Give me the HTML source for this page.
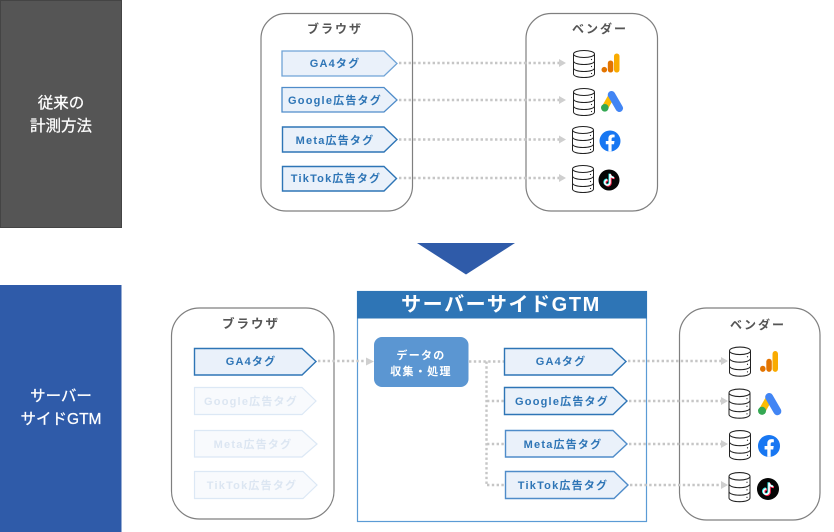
<!DOCTYPE html>
<html lang="ja">
<head>
<meta charset="utf-8">
<style>
html,body{margin:0;padding:0;background:#fff;width:834px;height:532px;overflow:hidden}
svg{display:block}
text{font-family:"Liberation Sans","Noto Sans CJK JP",sans-serif}
.tag{font-size:11px;font-weight:700;fill:#2E75B6;letter-spacing:1.2px;text-anchor:middle}
.hd{font-size:12px;font-weight:700;fill:#555;letter-spacing:2px;text-anchor:middle}
.side{font-size:15.5px;fill:#fff;stroke:#fff;stroke-width:.25;text-anchor:middle}
.dot{fill:none;stroke:#c6c6c6;stroke-width:2.4;stroke-dasharray:2.4 2.4}
.box{fill:#fff;stroke:#7f7f7f;stroke-width:1.2}
.s{fill:#EAF1FA;stroke:#2E75B6;stroke-width:1.4}
.f{fill:#F8FAFD;stroke:#DCE8F5;stroke-width:1.2}
.ft{font-size:11px;font-weight:700;fill:#DCE6F2;letter-spacing:1.2px;text-anchor:middle}
.ah{fill:#cfcfcf}
</style>
</head>
<body>
<svg width="834" height="532" viewBox="0 0 834 532" xmlns="http://www.w3.org/2000/svg">
<defs>
<g id="db" fill="#fff" stroke="#222" stroke-width="1">
<path d="M0.5 4v20c0 2 4.500 3.500 10.500 3.500s10.500-1.500 10.500-3.500V4"/>
<ellipse cx="11" cy="4" rx="10.500" ry="3.500"/>
<path d="M0.500 11c0 2 4.500 3.500 10.500 3.500s10.500-1.500 10.500-3.500M0.500 18c0 2 4.500 3.500 10.500 3.500s10.500-1.500 10.500-3.500" fill="none"/>
<circle cx="18.500" cy="9.500" r=".6" fill="#222" stroke="none"/>
<circle cx="18.500" cy="16.500" r=".6" fill="#222" stroke="none"/>
<circle cx="18.500" cy="23.500" r=".6" fill="#222" stroke="none"/>
</g>
<g id="ga">
<rect x="12.500" y="0" width="5.500" height="19" rx="2.700" fill="#F9AB00"/>
<rect x="6.300" y="7" width="5.500" height="12" rx="2.700" fill="#E37400"/>
<circle cx="2.800" cy="16.200" r="2.800" fill="#E37400"/>
</g>
<g id="ads">
<path d="M4 16.500 L10.500 5" stroke="#FBBC04" stroke-width="6.500" stroke-linecap="round"/>
<path d="M10.500 3.800 L18.300 17.200" stroke="#4285F4" stroke-width="7.500" stroke-linecap="round"/>
<circle cx="3.800" cy="16.800" r="3.800" fill="#34A853"/>
</g>
<g id="fb">
<circle cx="0" cy="0" r="10.500" fill="#1877F2"/>
<path d="M-1.600 10.400V3.300h-2.600V0h2.600v-2.400c0-2.700 1.600-4.100 4-4.100 1.100 0 2.200.2 2.200.2v2.700H3.300c-1.300 0-1.700.8-1.700 1.600V0h2.900l-.5 3.300H1.600v7.100z" fill="#fff"/>
</g>
<g id="tt">
<circle cx="0" cy="0" r="10.500" fill="#050505"/>
<path d="M1 -6v8.500a2.600 2.600 0 1 1-2.600-2.600M1-6c.3 2.200 1.800 3.500 4 3.700" fill="none" stroke="#FE2C55" stroke-width="2" transform="translate(.7 .6)"/>
<path d="M1 -6v8.500a2.600 2.600 0 1 1-2.600-2.600M1-6c.3 2.200 1.800 3.500 4 3.700" fill="none" stroke="#25F4EE" stroke-width="2" transform="translate(-.5 -.4)"/>
<path d="M1 -6v8.500a2.600 2.600 0 1 1-2.600-2.600M1-6c.3 2.200 1.800 3.500 4 3.700" fill="none" stroke="#fff" stroke-width="1.500"/>
</g>
</defs>

<!-- side bands -->
<rect x="0.500" y="0.500" width="121" height="227" fill="#555" stroke="#444"/>
<text class="side" x="61" y="108">従来の</text>
<text class="side" x="61" y="131">計測方法</text>
<rect x="0" y="285" width="121.500" height="247" fill="#2F5BA9"/>
<text class="side" x="61" y="401">サーバー</text>
<text class="side" x="61" y="424">サイドGTM</text>

<!-- down triangle -->
<polygon points="417,243 515,243 466,274.500" fill="#2F5BA9"/>

<!-- top section -->
<rect class="box" x="261" y="13.500" width="151.500" height="197.500" rx="25"/>
<rect class="box" x="526" y="13.500" width="131.500" height="197.500" rx="25"/>
<text class="hd" x="335" y="33">ブラウザ</text>
<text class="hd" x="600" y="33">ベンダー</text>

<polygon class="s" style="stroke:#6FA3D6;stroke-width:1.300" points="282,51 384,51 397,63.500 384,76 282,76"/>
<polygon class="s" style="stroke:#4F8CC9;stroke-width:1.300" points="282,87.500 384,87.500 397,100 384,112 282,112"/>
<polygon class="s" points="282.500,127 384,127 397,139.500 384,152 282.500,152"/>
<polygon class="s" points="282.500,166.500 384,166.500 396.500,178.500 384,191 282.500,191"/>
<text class="tag" x="335" y="67">GA4タグ</text>
<text class="tag" x="335" y="104">Google広告タグ</text>
<text class="tag" x="335" y="144">Meta広告タグ</text>
<text class="tag" x="336" y="182">TikTok広告タグ</text>

<path class="dot" d="M399 63H560M399 100H560M399 139.500H560M399 178H560"/>
<polygon class="ah" points="559,59 566,63 559,67"/>
<polygon class="ah" points="559,96 566,100 559,104"/>
<polygon class="ah" points="559,135.500 566,139.500 559,143.500"/>
<polygon class="ah" points="559,174 566,178 559,182"/>

<use href="#db" x="573" y="50"/>
<use href="#db" x="573" y="88"/>
<use href="#db" x="572" y="126"/>
<use href="#db" x="572" y="165"/>
<use href="#ga" x="601.500" y="53.500"/>
<use href="#ads" x="601" y="91"/>
<use href="#fb" x="610" y="141"/>
<use href="#tt" x="609" y="180"/>

<!-- bottom containers (drawn first so connectors sit above them) -->
<rect class="box" x="171.500" y="308" width="162.500" height="211" rx="28"/>
<rect class="box" x="679.500" y="308" width="140.500" height="212" rx="27"/>
<rect x="357.500" y="291.500" width="289" height="230" fill="#fff" stroke="#5B9BD5" stroke-width="1.200"/>
<rect x="357" y="291" width="290" height="27.500" fill="#2E75B6"/>
<text x="501" y="311" font-size="20" font-weight="700" fill="#fff" text-anchor="middle" letter-spacing="1.600">サーバーサイドGTM</text>

<!-- bottom browser -->
<text class="hd" x="251" y="328" style="font-size:12.500px">ブラウザ</text>
<polygon class="s" points="194.500,348.500 302,348.500 316,361.500 302,375 194.500,375"/>
<text class="tag" x="251" y="365">GA4タグ</text>
<polygon class="f" points="194.500,387.500 302,387.500 316,401 302,414.500 194.500,414.500"/>
<polygon class="f" points="194.500,430.500 302,430.500 317,444 302,457 194.500,457"/>
<polygon class="f" points="194.500,471.500 303,471.500 317,485 303,498.500 194.500,498.500"/>
<text class="ft" x="251" y="405">Google広告タグ</text>
<text class="ft" x="253" y="448">Meta広告タグ</text>
<text class="ft" x="252" y="489">TikTok広告タグ</text>
<path class="dot" d="M318 361H367"/>
<polygon class="ah" points="366,357.500 374,361.500 366,365.500"/>

<!-- data box -->
<rect x="374" y="337" width="94.500" height="50" rx="8" fill="#5B96D2"/>
<text x="421" y="359" font-size="11" font-weight="700" fill="#fff" text-anchor="middle" letter-spacing="1.300">データの</text>
<text x="421" y="375" font-size="11" font-weight="700" fill="#fff" text-anchor="middle" letter-spacing="1.300">収集・処理</text>

<path class="dot" d="M469 361.500H504M486.500 361.500V485M487 401H504M487 444H505M487 485H505"/>

<polygon class="s" points="504.500,348.500 612,348.500 626,361.500 612,375 504.500,375"/>
<polygon class="s" points="504.500,387.500 613,387.500 627,401 613,414.500 504.500,414.500"/>
<polygon class="s" style="stroke:#4F8CC9" points="505.500,430.500 613,430.500 627,444 613,457 505.500,457"/>
<polygon class="s" style="stroke:#4F8CC9" points="505.500,471.500 614,471.500 628,485 614,498.500 505.500,498.500"/>
<text class="tag" x="561" y="365">GA4タグ</text>
<text class="tag" x="562" y="405">Google広告タグ</text>
<text class="tag" x="563" y="448">Meta広告タグ</text>
<text class="tag" x="563" y="489">TikTok広告タグ</text>

<path class="dot" d="M628 361H722M629 401H722M629 444H722M630 485H722"/>
<polygon class="ah" points="721,357 728,361 721,365"/>
<polygon class="ah" points="721,397 728,401 721,405"/>
<polygon class="ah" points="721,440 728,444 721,448"/>
<polygon class="ah" points="721,481 728,485 721,489"/>

<!-- bottom vendor -->
<text class="hd" x="758" y="329">ベンダー</text>
<use href="#db" transform="translate(729 346.500) scale(1 1.080)"/>
<use href="#db" transform="translate(728.500 388.500) scale(1 1.080)"/>
<use href="#db" transform="translate(729 430) scale(1 1.080)"/>
<use href="#db" transform="translate(728.500 472) scale(1 1.080)"/>
<use href="#ga" transform="translate(760 351) scale(1 1.100)"/>
<use href="#ads" transform="translate(758 393) scale(1.060)"/>
<use href="#fb" transform="translate(769 446) scale(1.050)"/>
<use href="#tt" transform="translate(768 489) scale(1.050)"/>
</svg>
</body>
</html>
